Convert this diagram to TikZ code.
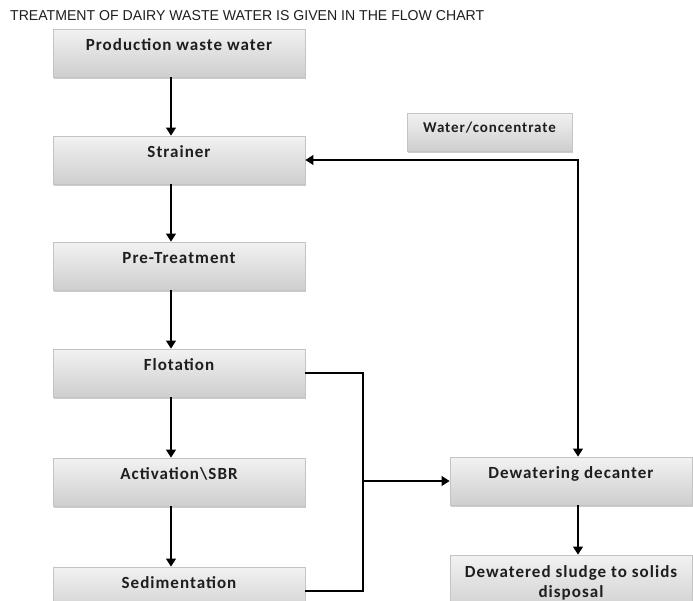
\documentclass[tikz,border=0pt]{standalone}
\usepackage{fontspec}
\usepackage{graphicx}
\setmainfont{Carlito}
\newfontfamily\boxfont[LetterSpace=6]{Carlito}
\newfontfamily\headfont{Liberation Sans}
\usetikzlibrary{arrows.meta,shadows,positioning,calc}
\definecolor{boxtop}{RGB}{242,242,242}
\definecolor{boxbot}{RGB}{206,206,206}
\definecolor{boxline}{RGB}{196,196,196}
\definecolor{ink}{RGB}{30,30,30}

\tikzset{
  >={Triangle[width=9.5pt,length=8pt]},
  stage/.style={rectangle, draw=boxline, line width=0.6pt,
    top color=boxtop, bottom color=boxbot,
    drop shadow={shadow xshift=1pt,shadow yshift=-2pt,opacity=0.4},
    minimum width=252pt, inner xsep=0pt, inner ysep=0pt,
    text height=21pt, text depth=27pt, text=ink,
    font=\boxfont\bfseries\fontsize{17}{20}\selectfont},
  flow/.style={line width=2.9pt, ->},
  pipe/.style={line width=2.9pt, line join=miter}
}

\begin{document}
\begin{tikzpicture}[x=1pt,y=-1pt]
  \useasboundingbox (0,0) rectangle (693,600);
  \node[anchor=base west,inner sep=0pt,text=ink] (title) at (10,20)
    {\resizebox{474pt}{10pt}{\headfont TREATMENT OF DAIRY WASTE WATER IS GIVEN IN THE FLOW CHART}};

  % main treatment line
  \foreach \y/\name/\lbl in {
    53/prod/Production waste water,
    160/strainer/Strainer,
    266/pretreat/Pre-Treatment,
    373/flot/Flotation,
    482/activ/Activation\textbackslash SBR,
    591/sedim/Sedimentation}
    \node[stage] (\name) at (179,\y) {\lbl};
  \foreach \a/\b in {prod/strainer, strainer/pretreat, pretreat/flot, flot/activ, activ/sedim}
    \draw[flow] ([xshift=-8pt]\a.south) -- ([xshift=-8pt]\b.north);

  % sludge line
  \node[stage, minimum width=165pt, text height=19pt, text depth=19pt,
    font=\boxfont\bfseries\fontsize{15}{18}\selectfont] (water) at (489.5,132) {Water/concentrate};
  \node[stage, minimum width=242pt] (decanter) at (571,481) {Dewatering decanter};
  \node[stage, minimum width=242pt, align=center, text height=42pt, text depth=16pt]
    (sludge) at (571,584) {Dewatered sludge to solids\\disposal};

  \coordinate (join) at (363,481);
  \draw[pipe] (flot.east) -| (join) |- (sedim.east);
  \draw[flow] (join) -- (decanter.west);
  \draw[flow, <->] (strainer.east) -| ([xshift=7pt]decanter.north);
  \draw[flow] ([xshift=7pt]decanter.south) -- ([xshift=7pt]sludge.north);
\end{tikzpicture}
\end{document}
